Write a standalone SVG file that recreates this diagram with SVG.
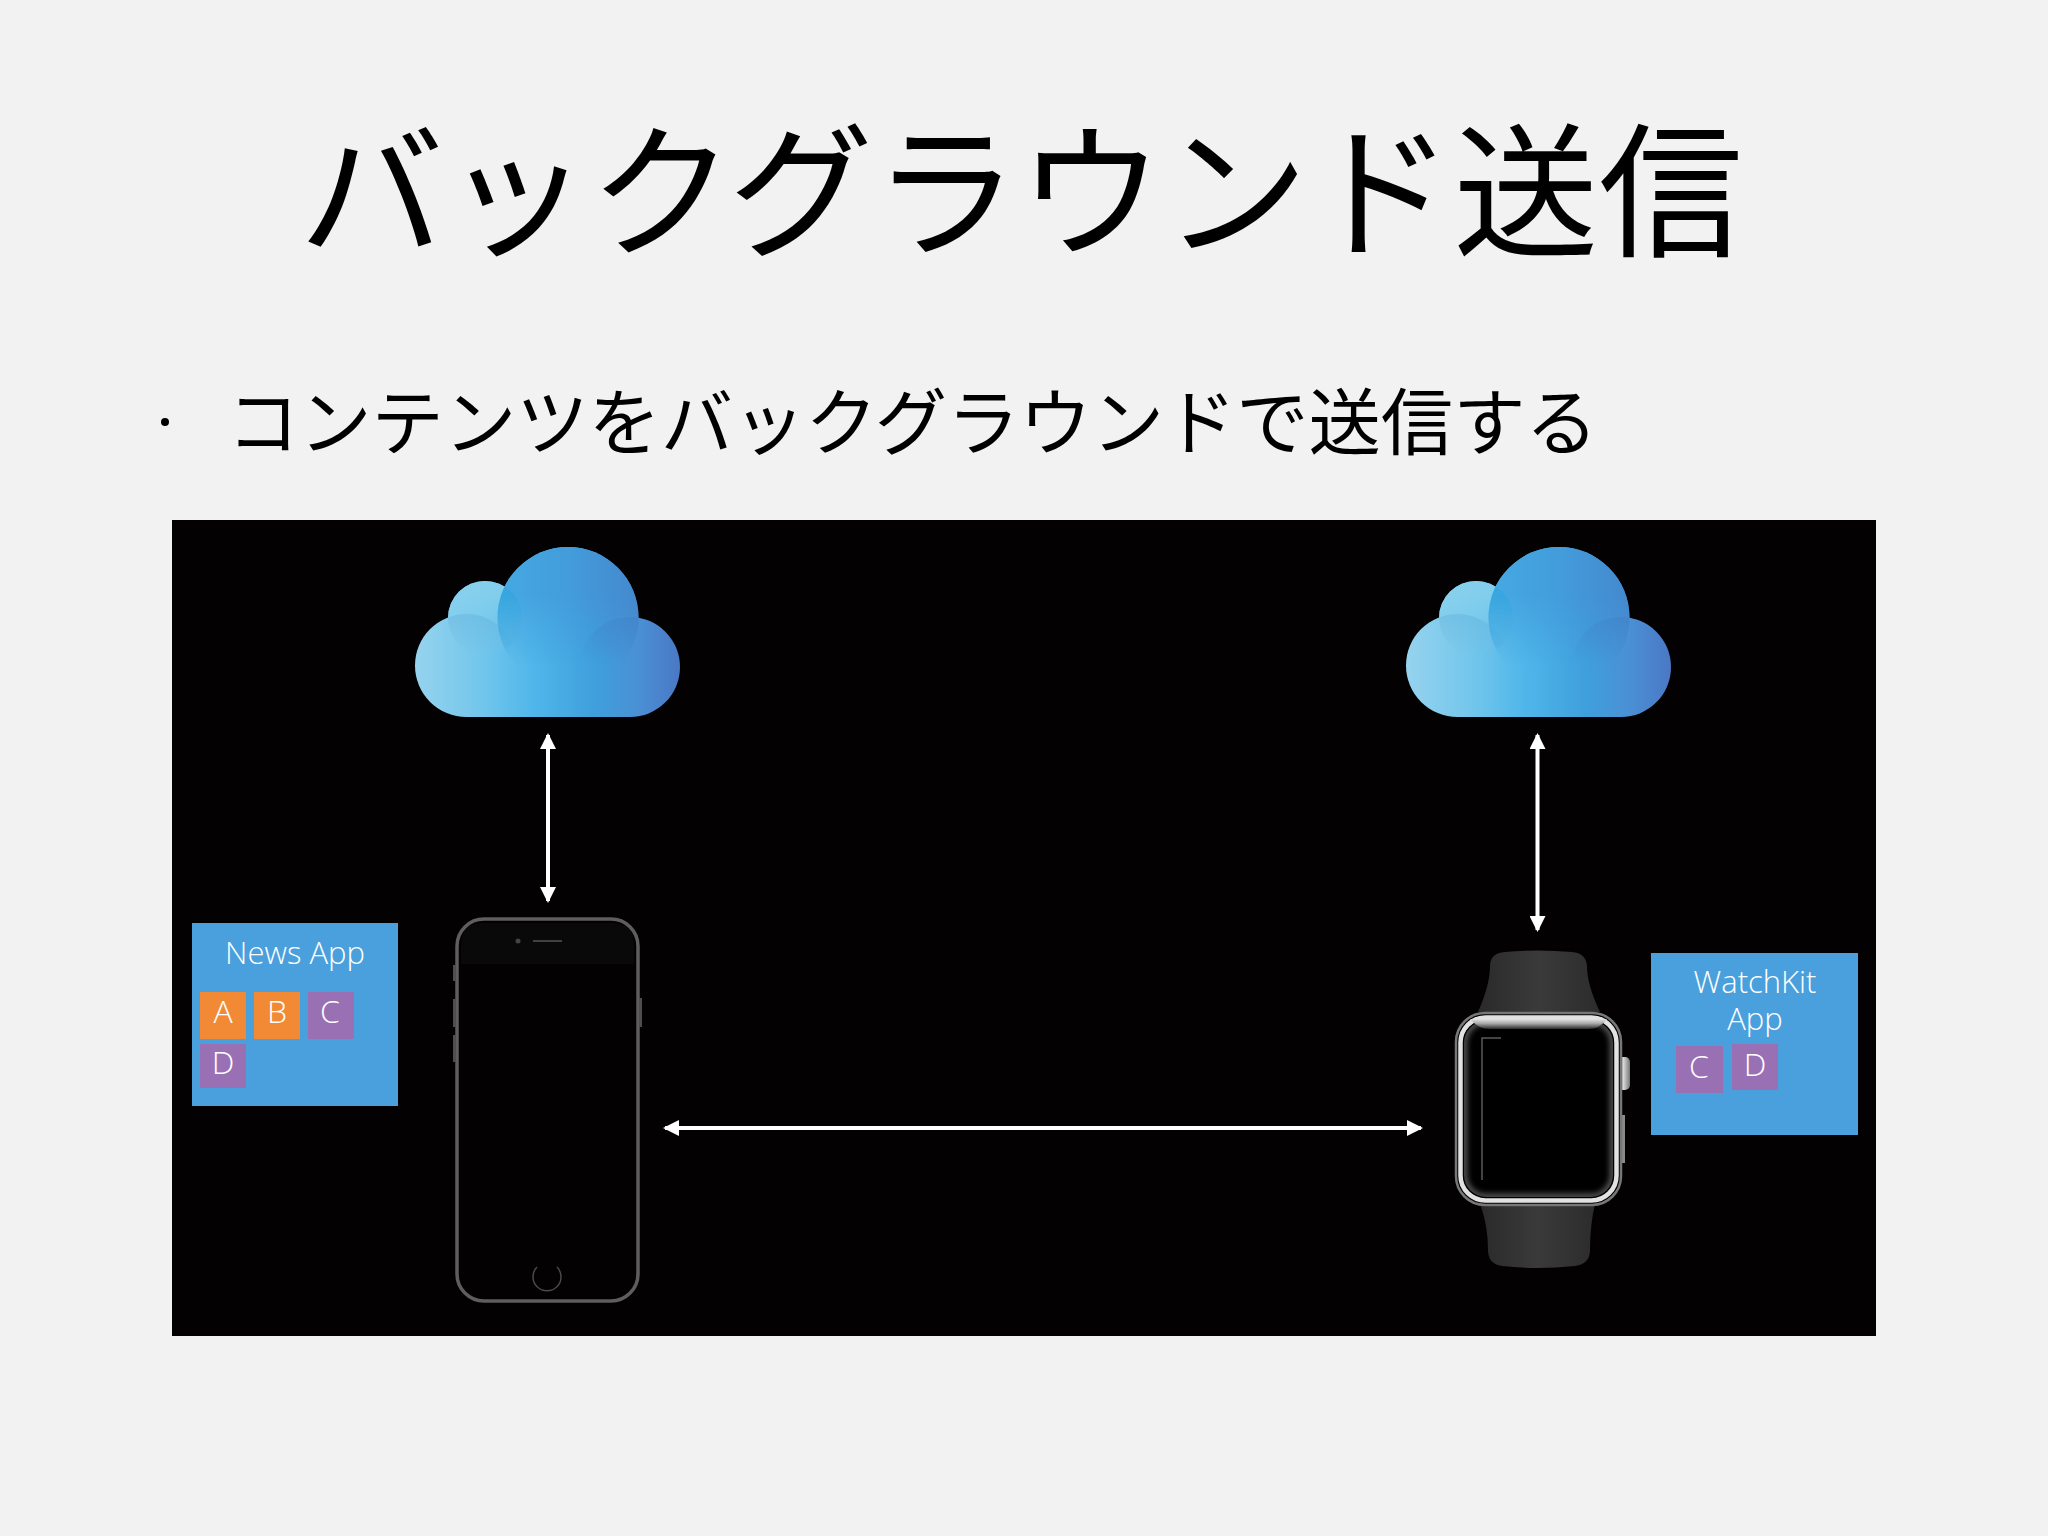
<svg xmlns="http://www.w3.org/2000/svg" width="2048" height="1536" viewBox="0 0 2048 1536">
<style>
.jp{font-family:"Noto Sans CJK JP","Noto Sans",sans-serif;font-weight:400;fill:#000}
.lb{font-family:"Open Sans","Noto Sans",sans-serif;font-weight:300;fill:#fff;text-anchor:middle}
.app{fill:#4aa0dc}
.org{fill:#f28a35}
.pur{fill:#9a70b4}
.arrow{stroke:#fff;stroke-width:4;fill:none;marker-start:url(#head);marker-end:url(#head)}
.ptrim{fill:#4e4e4e}
</style>
<defs>
<marker id="head" viewBox="0 0 16 16" refX="14" refY="8" markerWidth="16" markerHeight="16" markerUnits="userSpaceOnUse" orient="auto-start-reverse"><path d="M0 0L16 8L0 16Z" fill="#fff"/></marker>
<linearGradient id="cg" gradientUnits="userSpaceOnUse" x1="415" y1="0" x2="680" y2="0">
<stop offset="0" stop-color="#96d3ee"/><stop offset=".25" stop-color="#72c6ec"/><stop offset=".45" stop-color="#4fb6ea"/><stop offset=".68" stop-color="#3f9fdc"/><stop offset=".85" stop-color="#4a8fd4"/><stop offset="1" stop-color="#4a78c4"/>
</linearGradient>
<linearGradient id="cs" gradientUnits="userSpaceOnUse" x1="450" y1="581" x2="520" y2="640">
<stop offset="0" stop-color="#8ad2ee"/><stop offset="1" stop-color="#78c8ea"/>
</linearGradient>
<linearGradient id="cb" gradientUnits="userSpaceOnUse" x1="498" y1="0" x2="640" y2="0">
<stop offset="0" stop-color="#45aae2"/><stop offset=".5" stop-color="#439cdb"/><stop offset="1" stop-color="#4488cd"/>
</linearGradient>
<linearGradient id="cf" gradientUnits="userSpaceOnUse" x1="0" y1="596" x2="0" y2="665">
<stop offset="0" stop-color="#fff" stop-opacity="1"/><stop offset="1" stop-color="#fff" stop-opacity="0"/>
</linearGradient>
<mask id="cm" maskUnits="userSpaceOnUse" x="400" y="530" width="300" height="200"><rect x="400" y="530" width="300" height="200" fill="url(#cf)"/></mask>
<linearGradient id="lf" gradientUnits="userSpaceOnUse" x1="0" y1="612" x2="0" y2="655">
<stop offset="0" stop-color="#3f8fc8" stop-opacity=".22"/><stop offset="1" stop-color="#3f8fc8" stop-opacity="0"/>
</linearGradient>
<linearGradient id="rf" gradientUnits="userSpaceOnUse" x1="0" y1="617" x2="0" y2="660">
<stop offset="0" stop-color="#3d78bf" stop-opacity=".28"/><stop offset="1" stop-color="#3d78bf" stop-opacity="0"/>
</linearGradient>
<clipPath id="csm"><circle cx="485" cy="618" r="37"/></clipPath>
<clipPath id="cbg"><circle cx="568" cy="617.5" r="70.5"/></clipPath>
<g id="cloud">
<g fill="url(#cg)">
<circle cx="466.5" cy="665.5" r="51.5"/>
<circle cx="630" cy="667" r="50"/>
<circle cx="485" cy="618" r="37"/>
<circle cx="568" cy="617.5" r="70.5"/>
<rect x="466" y="640" width="165" height="77"/>
</g>
<circle cx="485" cy="618" r="37" fill="url(#cs)" mask="url(#cm)"/>
<circle cx="466.500" cy="665.500" r="51.500" fill="url(#lf)" clip-path="url(#csm)"/>
<circle cx="568" cy="617.500" r="70.500" fill="url(#cb)" mask="url(#cm)"/>
<circle cx="485" cy="618" r="37" fill="#30a4de" fill-opacity=".55" clip-path="url(#cbg)" mask="url(#cm)"/>
<circle cx="630" cy="667" r="50" fill="url(#rf)" clip-path="url(#cbg)"/>
</g>
<linearGradient id="glare" x1="0" y1="0" x2="0" y2="1"><stop offset="0" stop-color="#e4e4e4"/><stop offset=".45" stop-color="#a8a8a8"/><stop offset="1" stop-color="#2a2a2a"/></linearGradient>
<linearGradient id="band" x1="0" y1="0" x2="1" y2="0"><stop offset="0" stop-color="#2a2a2a"/><stop offset=".5" stop-color="#3a3a3a"/><stop offset="1" stop-color="#2c2c2c"/></linearGradient>
<linearGradient id="crown" x1="0" y1="0" x2="1" y2="0"><stop offset="0" stop-color="#666"/><stop offset=".5" stop-color="#d8d8d8"/><stop offset="1" stop-color="#777"/></linearGradient>
<filter id="soft" x="-10%" y="-10%" width="120%" height="120%"><feGaussianBlur stdDeviation="3"/></filter>
<clipPath id="scr"><rect x="1464" y="1021" width="149" height="176" rx="22"/></clipPath>
</defs>
<rect id="background" width="2048" height="1536" fill="#f3f2f2"/>
<text id="title" class="jp" x="299" y="246" font-size="145">バックグラウンド送信</text>
<g id="bullet">
<circle cx="165" cy="422" r="4" fill="#000"/>
<text class="jp" x="227" y="449" font-size="72.300">コンテンツをバックグラウンドで送信する</text>
</g>
<rect id="panel" x="172" y="520" width="1704" height="816" fill="#030102"/>
<g id="cloud-left"><use href="#cloud"/></g>
<g id="cloud-right" transform="translate(991 0)"><use href="#cloud"/></g>
<g id="phone">
<path d="M461 964V945Q461 923 483 923H612Q634 923 634 945V964Z" fill="#090909"/>
<rect x="457" y="919" width="181" height="382" rx="27" fill="none" stroke="#5e5e5e" stroke-width="3.500"/>
<rect x="453" y="965" width="3" height="16" class="ptrim"/>
<rect x="453" y="999" width="3" height="28" class="ptrim"/>
<rect x="453" y="1035" width="3" height="27" class="ptrim"/>
<rect x="639" y="998" width="3" height="29" class="ptrim"/>
<circle cx="518" cy="941" r="2.500" fill="#444"/>
<line x1="533" y1="941" x2="562" y2="941" stroke="#555" stroke-width="1.500"/>
<path d="M537 1267A14 14 0 1 0 557 1267" fill="none" stroke="#4a4a4a" stroke-width="1.500"/>
</g>
<g id="news-app">
<rect class="app" x="192" y="923" width="206" height="183"/>
<text class="lb" x="295" y="964" font-size="31">News App</text>
<rect class="org" x="200" y="992" width="46" height="47"/>
<text class="lb" x="223" y="1023" font-size="32">A</text>
<rect class="org" x="254" y="992" width="46" height="47"/>
<text class="lb" x="277" y="1023" font-size="32">B</text>
<rect class="pur" x="308" y="992" width="46" height="47"/>
<text class="lb" x="330" y="1023" font-size="32">C</text>
<rect class="pur" x="200" y="1044" width="46" height="44"/>
<text class="lb" x="223" y="1074" font-size="32">D</text>
</g>
<g id="watch">
<path d="M1490 966Q1490 953 1505 952Q1538 949 1572 952Q1586 953 1587 966Q1587 985 1600 1012H1478Q1490 985 1490 966Z" fill="url(#band)"/>
<path d="M1480 1204H1595Q1590 1225 1590 1250Q1590 1264 1575 1266Q1537 1270 1502 1266Q1488 1264 1488 1250Q1488 1225 1480 1204Z" fill="url(#band)"/>
<rect x="1617" y="1057" width="13" height="33" rx="5" fill="url(#crown)"/>
<rect x="1620" y="1115" width="5" height="48" fill="#8a8a8a"/>
<rect x="1456" y="1013" width="165" height="192" rx="29" fill="#000" stroke="#777" stroke-width="2.500"/>
<rect x="1460.500" y="1017.500" width="156" height="183" rx="25" fill="#000" stroke="#e2e2e2" stroke-width="4.500"/>
<g clip-path="url(#scr)">
<rect x="1464" y="1021" width="149" height="176" rx="22" fill="none" stroke="#8e8e8e" stroke-width="4" filter="url(#soft)"/>
</g>
<path d="M1470 1019H1607Q1600 1029 1588 1029H1490Q1478 1029 1470 1019Z" fill="url(#glare)"/>
<path d="M1501 1038H1482V1180" fill="none" stroke="#5a5a5a" stroke-width="1.500"/>
</g>
<g id="watchkit-app">
<rect class="app" x="1651" y="953" width="207" height="182"/>
<text class="lb" x="1755" y="993" font-size="31">WatchKit</text>
<text class="lb" x="1755" y="1030" font-size="31">App</text>
<rect class="pur" x="1676" y="1046" width="47" height="47"/>
<text class="lb" x="1699" y="1078" font-size="32">C</text>
<rect class="pur" x="1732" y="1044" width="46" height="46"/>
<text class="lb" x="1755" y="1076" font-size="32">D</text>
</g>
<g id="connectors">
<line class="arrow" x1="548" y1="735" x2="548" y2="901"/>
<line class="arrow" x1="1537.500" y1="735" x2="1537.500" y2="930"/>
<line class="arrow" x1="665" y1="1128" x2="1421" y2="1128"/>
</g>
</svg>
